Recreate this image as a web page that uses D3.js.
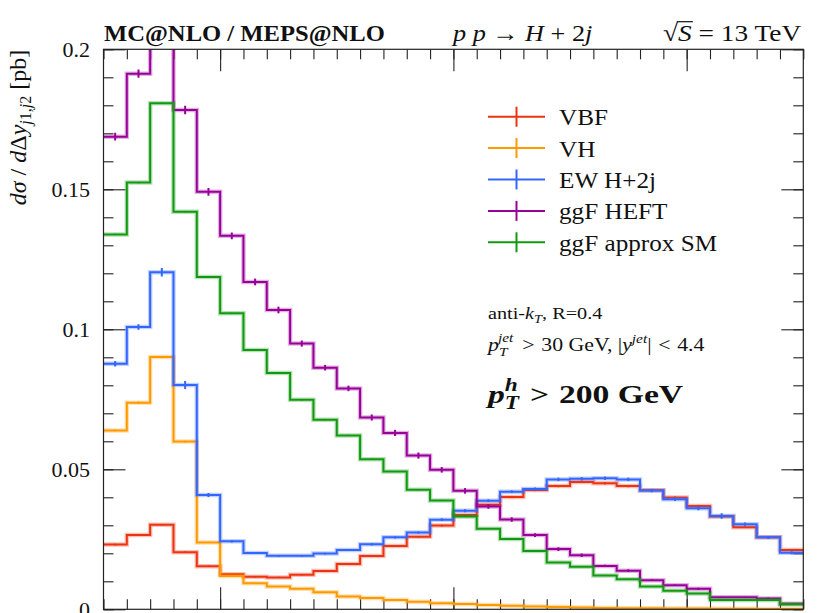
<!DOCTYPE html>
<html lang="en">
<head>
<meta charset="UTF-8">
<title>pp -> H+2j, dsigma/dDy</title>
<script src="https://d3js.org/d3.v7.min.js"></script>
<style>
    body { margin: 0; background: #fff; }
    svg { display: block; font-family: "Liberation Serif", "Times New Roman", serif; }
    .it { font-style: italic; }
</style>
</head>
<body>
<svg id="chart" width="830" height="613"></svg>
<script>
    // bin edges of the rapidity-difference histogram (30 bins)
    const binEdges = d3.range(-7.5, 7.51, 0.5);

    // series values (pb)
    const vbf = [0.0231, 0.0265, 0.0302, 0.0204, 0.0154, 0.0125, 0.0116, 0.0114, 0.0123, 0.0137,
                 0.0162, 0.0190, 0.0226, 0.0259, 0.0299, 0.0337, 0.0373, 0.0401, 0.0426, 0.0440,
                 0.0455, 0.0450, 0.0440, 0.0425, 0.0399, 0.0369, 0.0331, 0.0293, 0.0257, 0.0212];
    const vh = [0.0639, 0.0738, 0.0901, 0.0599, 0.0239, 0.0119, 0.0093, 0.0081, 0.0073, 0.0061,
                0.0046, 0.0040, 0.0033, 0.0027, 0.0022, 0.0019, 0.0015, 0.0013, 0.0010, 0.0008,
                0.0006, 0.0005, 0.0004, 0.0004, 0.0003, 0.0003, 0.0002, 0.0002, 0.0001, 0.0001];
    const ewH2j = [0.0877, 0.1008, 0.1204, 0.0801, 0.0408, 0.0243, 0.0201, 0.0191, 0.0191, 0.0199,
                   0.0212, 0.0232, 0.0257, 0.0274, 0.0320, 0.0352, 0.0388, 0.0420, 0.0430, 0.0464,
                   0.0466, 0.0468, 0.0464, 0.0424, 0.0393, 0.0361, 0.0333, 0.0304, 0.0257, 0.0202];
    const ggfHeft = [0.1688, 0.1913, 0.2080, 0.1783, 0.1491, 0.1334, 0.1169, 0.1069, 0.0949, 0.0863,
                     0.0789, 0.0685, 0.0630, 0.0549, 0.0498, 0.0423, 0.0367, 0.0321, 0.0265, 0.0215,
                     0.0193, 0.0155, 0.0138, 0.0104, 0.0086, 0.0073, 0.0043, 0.0043, 0.0039, 0.0020];
    const ggfSM = [0.1339, 0.1524, 0.1807, 0.1420, 0.1187, 0.1057, 0.0926, 0.0844, 0.0748, 0.0677,
                   0.0621, 0.0536, 0.0492, 0.0427, 0.0389, 0.0331, 0.0288, 0.0251, 0.0208, 0.0167,
                   0.0152, 0.0121, 0.0107, 0.0081, 0.0066, 0.0056, 0.0033, 0.0033, 0.0033, 0.0018];

    // statistical errors (half length of the bars)
    const vbfErr = [0.0003, 0.0003, 0.0003, 0.0003, 0.0002, 0.0002, 0.0002, 0.0002, 0.0002, 0.0002,
                    0.0002, 0.0002, 0.0003, 0.0003, 0.0003, 0.0003, 0.0003, 0.0004, 0.0004, 0.0004,
                    0.0004, 0.0004, 0.0004, 0.0004, 0.0004, 0.0004, 0.0004, 0.0003, 0.0003, 0.0003];
    const vhErr = [0.0003, 0.0004, 0.0004, 0.0003, 0.0002, 0.0001, 0.0001, 0.0001, 0.0001, 0.0001,
                   0.0001, 0.0001, 0.0001, 0.0001, 0.0001, 0.0001, 0.0001, 0.0001, 0.0001, 0.0001,
                   0.0001, 0.0001, 0.0001, 0.0001, 0.0001, 0.0001, 0.0001, 0.0001, 0.0001, 0.0001];
    const ewErr = [0.0010, 0.0010, 0.0015, 0.0014, 0.0007, 0.0004, 0.0003, 0.0003, 0.0003, 0.0003,
                   0.0003, 0.0004, 0.0004, 0.0004, 0.0005, 0.0005, 0.0005, 0.0005, 0.0005, 0.0006,
                   0.0006, 0.0006, 0.0006, 0.0006, 0.0006, 0.0007, 0.0010, 0.0006, 0.0005, 0.0005];
    const heftErr = [0.0014, 0.0015, 0.0015, 0.0015, 0.0014, 0.0012, 0.0012, 0.0012, 0.0011, 0.0010,
                     0.0010, 0.0011, 0.0011, 0.0011, 0.0010, 0.0010, 0.0008, 0.0008, 0.0007, 0.0007,
                     0.0006, 0.0004, 0.0005, 0.0003, 0.0003, 0.0004, 0.0002, 0.0002, 0.0003, 0.0001];
    const smErr = [0.0002, 0.0002, 0.0002, 0.0002, 0.0002, 0.0002, 0.0002, 0.0002, 0.0002, 0.0002,
                   0.0002, 0.0002, 0.0002, 0.0002, 0.0002, 0.0001, 0.0001, 0.0001, 0.0001, 0.0001,
                   0.0001, 0.0001, 0.0001, 0.0001, 0.0001, 0.0001, 0.0001, 0.0001, 0.0001, 0.0001];

    const seriesNames = ["VBF", "VH", "EW H+2j", "ggF HEFT", "ggF approx SM"];
    const seriesColors = ["#ee3311", "#ff9900", "#3366ff", "#990099", "#119911"];
    const seriesValues = [vbf, vh, ewH2j, ggfHeft, ggfSM];
    const seriesErrors = [vbfErr, vhErr, ewErr, heftErr, smErr];

    // axis ticks
    const yMajor = [0, 0.05, 0.1, 0.15, 0.2];
    const yTickLabels = ["0", "0.05", "0.1", "0.15", "0.2"];
    const yMinor = d3.range(0, 0.2001, 0.01);
    const xMajor = [-5, 0, 5];

    // plot frame
    const plotLeft = 103.5, plotRight = 803.3, plotTop = 49.3, plotBottom = 609.3;

    const svg = d3.select("#chart");

    const x = d3.scaleLinear().domain([binEdges[0], binEdges[binEdges.length - 1]]).range([plotLeft, plotRight]);
    const y = d3.scaleLinear().domain([0, 0.2]).range([plotBottom, plotTop]);

    svg.append("defs").append("clipPath").attr("id", "plotclip")
        .append("rect")
        .attr("x", plotLeft).attr("y", plotTop)
        .attr("width", plotRight - plotLeft).attr("height", plotBottom - plotTop);

    // stretch a text block horizontally so it spans the same width as the original typesetting
    function fitText(sel, x0, y0, targetW) {
        const w = sel.node().getBBox().width;
        sel.attr("transform", `translate(${x0},${y0}) scale(${targetW / w},1)`);
    }

    // ticks, all four sides, pointing inward
    function tickGroup(axis, tx, ty) {
        const g = svg.append("g").attr("transform", `translate(${tx},${ty})`).call(axis);
        g.select(".domain").remove();
        g.selectAll(".tick line").attr("stroke", "#222").attr("stroke-width", 1.1);
        return g;
    }
    tickGroup(d3.axisLeft(y).tickValues(yMinor).tickSize(-10).tickFormat(""), plotLeft, 0);
    const yLab = tickGroup(d3.axisLeft(y).tickValues(yMajor).tickSize(-22).tickPadding(13.5)
        .tickFormat((d, i) => yTickLabels[i]), plotLeft, 0);
    yLab.selectAll(".tick text")
        .attr("font-family", "Liberation Serif, serif")
        .attr("font-size", 22)
        .attr("fill", "#111");
    tickGroup(d3.axisRight(y).tickValues(yMinor).tickSize(-10).tickFormat(""), plotRight, 0);
    tickGroup(d3.axisRight(y).tickValues(yMajor).tickSize(-22).tickFormat(""), plotRight, 0);
    tickGroup(d3.axisBottom(x).tickValues(binEdges).tickSize(-10).tickFormat(""), 0, plotBottom);
    tickGroup(d3.axisBottom(x).tickValues(xMajor).tickSize(-22).tickFormat(""), 0, plotBottom);
    tickGroup(d3.axisTop(x).tickValues(binEdges).tickSize(-10).tickFormat(""), 0, plotTop);
    tickGroup(d3.axisTop(x).tickValues(xMajor).tickSize(-22).tickFormat(""), 0, plotTop);

    // histograms
    const step = d3.line()
        .x(d => x(d[0]))
        .y(d => y(d[1]))
        .curve(d3.curveStepAfter);

    const plot = svg.append("g").attr("clip-path", "url(#plotclip)");

    seriesValues.forEach((vals, s) => {
        const pts = vals.map((v, i) => [binEdges[i], v]);
        pts.push([binEdges[vals.length], vals[vals.length - 1]]);
        const g = plot.append("g");
        g.append("path")
            .attr("d", step(pts))
            .attr("fill", "none")
            .attr("stroke", seriesColors[s])
            .attr("stroke-opacity", 0.3)
            .attr("stroke-width", 4.5);
        g.append("path")
            .attr("d", step(pts))
            .attr("fill", "none")
            .attr("stroke", seriesColors[s])
            .attr("stroke-width", 2);
        g.selectAll("line.err")
            .data(vals)
            .join("line")
            .attr("class", "err")
            .attr("x1", (d, i) => x((binEdges[i] + binEdges[i + 1]) / 2))
            .attr("x2", (d, i) => x((binEdges[i] + binEdges[i + 1]) / 2))
            .attr("y1", (d, i) => y(d - seriesErrors[s][i]))
            .attr("y2", (d, i) => y(d + seriesErrors[s][i]))
            .attr("stroke", seriesColors[s])
            .attr("stroke-width", 2);
    });

    // frame
    svg.append("rect")
        .attr("x", plotLeft).attr("y", plotTop)
        .attr("width", plotRight - plotLeft).attr("height", plotBottom - plotTop)
        .attr("fill", "none")
        .attr("stroke", "#222")
        .attr("stroke-width", 1.2);

    // legend
    const legend = svg.append("g");
    seriesNames.forEach((name, i) => {
        const ly = 116.7 + i * 31.4;
        legend.append("line")
            .attr("x1", 488).attr("x2", 545).attr("y1", ly).attr("y2", ly)
            .attr("stroke", seriesColors[i]).attr("stroke-width", 2);
        legend.append("line")
            .attr("x1", 516.5).attr("x2", 516.5).attr("y1", ly - 10).attr("y2", ly + 10)
            .attr("stroke", seriesColors[i]).attr("stroke-width", 2);
        legend.append("text")
            .attr("transform", `translate(559,${ly + 8.5}) scale(1.05,1)`)
            .attr("font-size", 24)
            .attr("fill", "#111")
            .text(name);
    });

    // titles above the frame
    const title = svg.append("text")
        .attr("font-size", 24).attr("font-weight", "bold")
        .attr("fill", "#111")
        .text("MC@NLO / MEPS@NLO");
    fitText(title, 104, 40.7, 281);

    const proc = svg.append("text")
        .attr("font-size", 24).attr("fill", "#111");
    proc.append("tspan").attr("class", "it").text("p p");
    proc.append("tspan").text(" \u2192 ");
    proc.append("tspan").attr("class", "it").text("H");
    proc.append("tspan").text(" + 2");
    proc.append("tspan").attr("class", "it").text("j");
    fitText(proc, 453, 40.7, 142);

    const energyG = svg.append("g");
    const energy = energyG.append("text")
        .attr("font-size", 24).attr("fill", "#111");
    energy.append("tspan").text("\u221A");
    energy.append("tspan").attr("class", "it").text("S");
    energy.append("tspan").text(" = 13 TeV");
    const sBox = energy.node().getExtentOfChar(1);
    energyG.append("line")
        .attr("x1", sBox.x - 1).attr("x2", sBox.x + sBox.width + 1)
        .attr("y1", sBox.y + 2).attr("y2", sBox.y + 2)
        .attr("stroke", "#111").attr("stroke-width", 1.2);
    fitText(energyG, 663, 40.7, 139);

    // y axis title
    const yTitle = svg.append("text")
        .attr("transform", "translate(26,127.5) rotate(-90)")
        .attr("text-anchor", "middle")
        .attr("font-size", 24).attr("fill", "#111");
    yTitle.append("tspan").attr("class", "it").text("d\u03C3");
    yTitle.append("tspan").text(" / ");
    yTitle.append("tspan").attr("class", "it").text("d");
    yTitle.append("tspan").text("\u0394");
    yTitle.append("tspan").attr("class", "it").text("y");
    yTitle.append("tspan").attr("class", "it").attr("font-size", 16).attr("dy", 5).text("j");
    yTitle.append("tspan").attr("font-size", 16).text("1,");
    yTitle.append("tspan").attr("class", "it").attr("font-size", 16).text("j");
    yTitle.append("tspan").attr("font-size", 16).text("2");
    yTitle.append("tspan").attr("dy", -5).text(" [pb]");

    // cut annotations
    const ann1 = svg.append("text")
        .attr("font-size", 17).attr("fill", "#111");
    ann1.append("tspan").text("anti-");
    ann1.append("tspan").attr("class", "it").text("k");
    ann1.append("tspan").attr("class", "it").attr("font-size", 12).attr("dy", 4).text("T");
    ann1.append("tspan").attr("dy", -4).text(", R=0.4");
    fitText(ann1, 488, 319, 115);

    const ann2 = svg.append("text")
        .attr("font-size", 18.5).attr("fill", "#111");
    ann2.append("tspan").attr("class", "it").text("p");
    ann2.append("tspan").attr("class", "it").attr("font-size", 13).attr("dy", 5).text("T");
    ann2.append("tspan").attr("class", "it").attr("font-size", 13).attr("dx", -8).attr("dy", -14).text("jet");
    ann2.append("tspan").attr("dy", 9).attr("dx", 3).text(" > ");
    ann2.append("tspan").attr("dx", 1).text("30 GeV, |");
    ann2.append("tspan").attr("class", "it").text("y");
    ann2.append("tspan").attr("class", "it").attr("font-size", 13).attr("dy", -8).text("jet");
    ann2.append("tspan").attr("dy", 8).text("| ");
    ann2.append("tspan").attr("dx", 1).text("< ");
    ann2.append("tspan").attr("dx", 1).text("4.4");
    fitText(ann2, 488, 351, 219);

    const ann3 = svg.append("text")
        .attr("font-size", 26).attr("font-weight", "bold").attr("fill", "#111");
    ann3.append("tspan").attr("class", "it").text("p");
    ann3.append("tspan").attr("class", "it").attr("font-size", 18).attr("dy", 6).text("T");
    ann3.append("tspan").attr("class", "it").attr("font-size", 18).attr("dx", -11).attr("dy", -18).text("h");
    ann3.append("tspan").attr("dy", 12).attr("dx", 3).text(" > ");
    ann3.append("tspan").attr("dx", 1).text("200 GeV");
    fitText(ann3, 488, 403, 198);
</script>
</body>
</html>
